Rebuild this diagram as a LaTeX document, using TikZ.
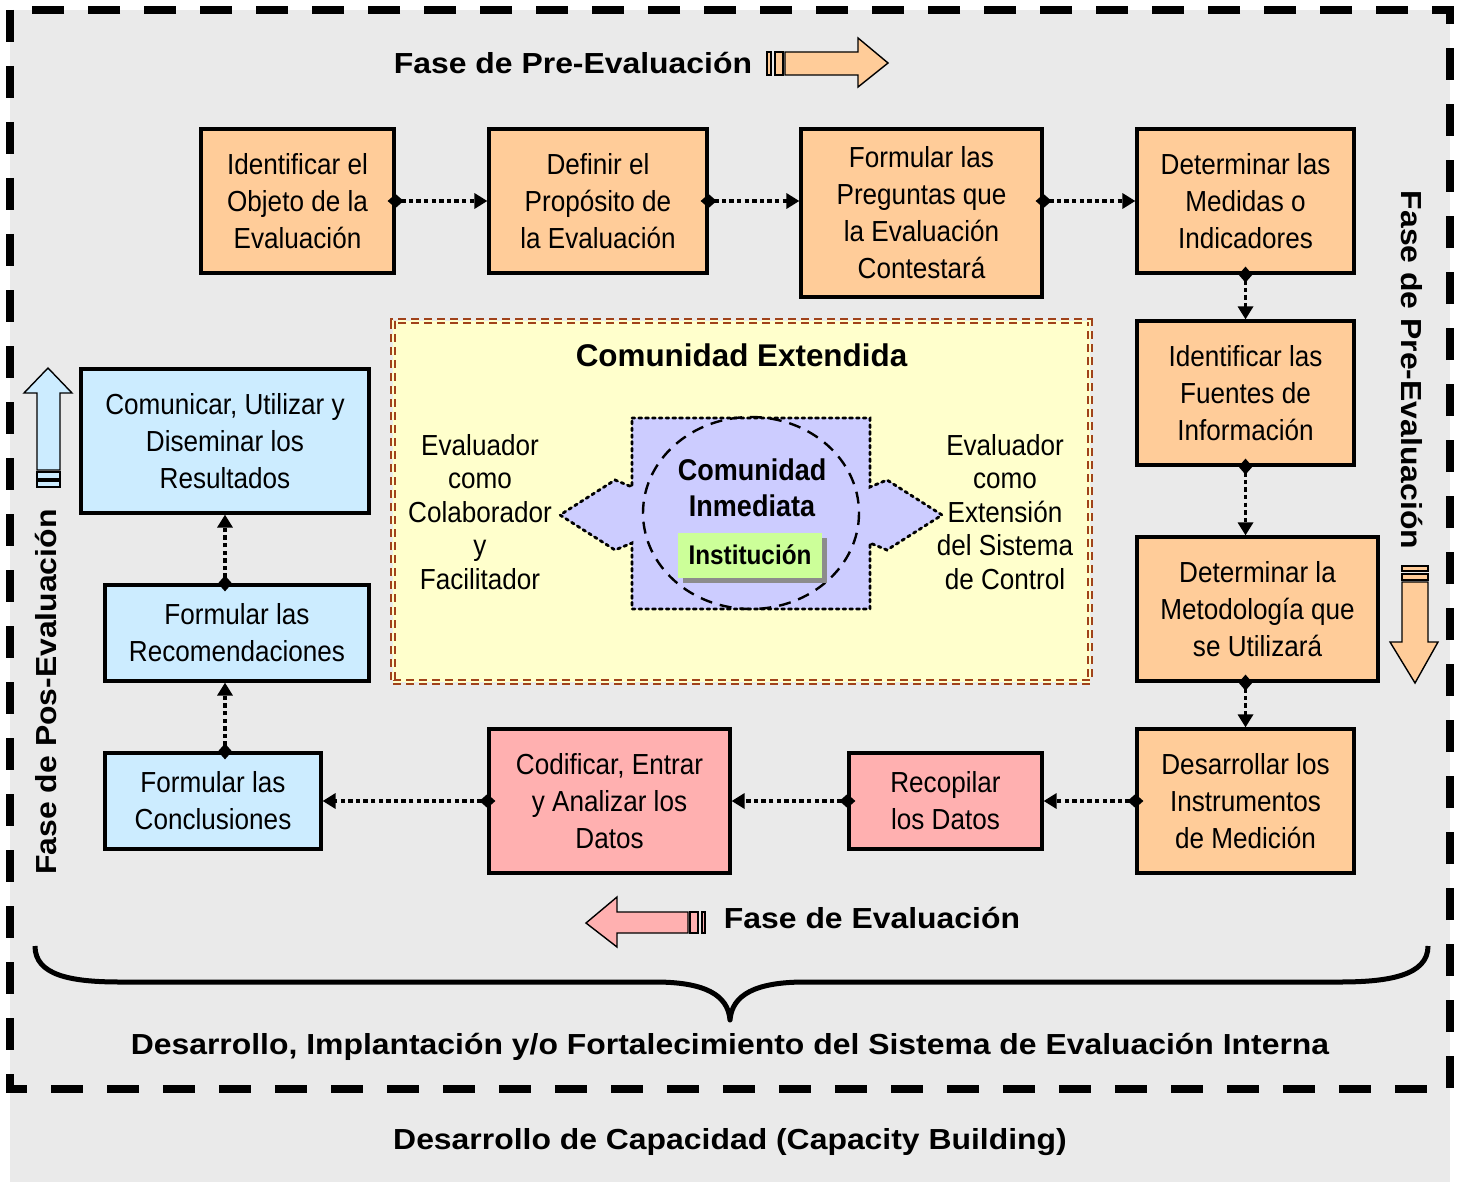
\documentclass[tikz,border=0pt]{standalone}
\usepackage{fontspec}
\setmainfont{Liberation Sans}
\newfontfamily\narrowsf[FakeStretch=0.9]{Liberation Sans}
\newfontfamily\widesf[FakeStretch=1.1]{Liberation Sans}
\usetikzlibrary{
  arrows.meta,
  shadows
}
\definecolor{evGray}{HTML}{EAEAEA}
\definecolor{evPre}{HTML}{FFCC99}
\definecolor{evEval}{HTML}{FFB0B0}
\definecolor{evPos}{HTML}{CCECFF}
\definecolor{evExt}{HTML}{FFFFCC}
\definecolor{evInm}{HTML}{CCCCFF}
\definecolor{evInst}{HTML}{CCFF99}
\definecolor{evRust}{HTML}{A0421A}
\tikzset{
  paso/.style={
    draw, line width=1.6pt, align=center, inner sep=2pt,
    font=\narrowsf\fontsize{14.5}{18.5}\selectfont
  },
  pasopre/.style={paso, fill=evPre},
  pasoeval/.style={paso, fill=evEval},
  pasopos/.style={paso, fill=evPos},
  enlace/.style={
    line width=1.6pt, dash pattern=on 2.2pt off 1.6pt, shorten <=-4pt,
    {Diamond[length=8pt, width=7pt]}-{Triangle[length=6.5pt, width=7.5pt]}
  },
  fase/.style={font=\widesf\bfseries\fontsize{14.5}{17}\selectfont},
  rol/.style={align=center, font=\narrowsf\fontsize{14.5}{16.8}\selectfont},
  flecha/.style={draw, line width=0.7pt, line join=miter},
  marco/.style={line width=4pt, dash pattern=on 16pt off 12pt},
  llave/.style={line width=2.5pt, line join=round}
}

\begin{document}
\begin{tikzpicture}[x=0.5pt, y=-0.5pt]
  \useasboundingbox (0,0) rectangle (1460,1182);
  \fill[evGray] (10,10) rectangle (1450,1182);
  \draw[marco] (10,10) rectangle (1450,1089);

  % fase de pre-evaluacion
  \node[fase] (tpre) at (573,63) {Fase de Pre-Evaluación};
  \draw[flecha, fill=evPre] (767,52) rectangle (771,75);
  \draw[flecha, fill=evPre] (775,52) rectangle (783,75);
  \draw[flecha, fill=evPre] (785,52) -- (858,52) -- (858,38) -- (888,63)
    -- (858,87) -- (858,75) -- (785,75) -- cycle;

  \node[pasopre, minimum width=96.5pt, minimum height=72pt] (objeto) at (297.5,201)
    {Identificar el\\Objeto de la\\Evaluación};
  \node[pasopre, minimum width=109pt, minimum height=72pt] (proposito) at (598,201)
    {Definir el\\Propósito de\\la Evaluación};
  \node[pasopre, minimum width=120.5pt, minimum height=84pt] (preguntas) at (921.5,213)
    {Formular las\\Preguntas que\\la Evaluación\\Contestará};
  \node[pasopre, minimum width=108.5pt, minimum height=72pt] (medidas) at (1245.5,201)
    {Determinar las\\Medidas o\\Indicadores};
  \node[pasopre, minimum width=108.5pt, minimum height=72pt] (fuentes) at (1245.5,393)
    {Identificar las\\Fuentes de\\Información};
  \node[pasopre, minimum width=120.5pt, minimum height=72pt] (metodo) at (1257.5,609)
    {Determinar la\\Metodología que\\se Utilizará};
  \node[pasopre, minimum width=108.5pt, minimum height=72pt] (instrum) at (1245.5,801)
    {Desarrollar los\\Instrumentos\\de Medición};

  \node[fase, rotate=-90] (tpre2) at (1412,370) {Fase de Pre-Evaluación};
  \draw[flecha, fill=evPre] (1402,566) rectangle (1428,571);
  \draw[flecha, fill=evPre] (1402,574) rectangle (1428,580);
  \draw[flecha, fill=evPre] (1402,582) -- (1402,642) -- (1390,642) -- (1415,683)
    -- (1438,642) -- (1428,642) -- (1428,582) -- cycle;

  % fase de evaluacion
  \node[pasoeval, minimum width=96.5pt, minimum height=48pt] (recopilar) at (945.5,801)
    {Recopilar\\los Datos};
  \node[pasoeval, minimum width=120.5pt, minimum height=72pt] (codificar) at (609.5,801)
    {Codificar, Entrar\\y Analizar los\\Datos};

  \node[fase] (teval) at (872,918) {Fase de Evaluación};
  \draw[flecha, fill=evEval] (702,912) rectangle (705,933);
  \draw[flecha, fill=evEval] (690,912) rectangle (698,933);
  \draw[flecha, fill=evEval] (688,912) -- (617,912) -- (617,897) -- (586,923)
    -- (617,947) -- (617,933) -- (688,933) -- cycle;

  % fase de pos-evaluacion
  \node[pasopos, minimum width=108pt, minimum height=48pt] (conclus) at (213,801)
    {Formular las\\Conclusiones};
  \node[pasopos, minimum width=132pt, minimum height=48pt] (recomend) at (237,633)
    {Formular las\\Recomendaciones};
  \node[pasopos, minimum width=144pt, minimum height=72pt] (comunicar) at (225,441)
    {Comunicar, Utilizar y\\Diseminar los\\Resultados};

  \node[fase, rotate=90] (tpos) at (46,692) {Fase de Pos-Evaluación};
  \draw[flecha, fill=evPos] (37,481) rectangle (60,487);
  \draw[flecha, fill=evPos] (37,472) rectangle (60,479);
  \draw[flecha, fill=evPos] (37,470) -- (37,393) -- (24,393) -- (48,368)
    -- (72,393) -- (60,393) -- (60,470) -- cycle;

  % enlaces
  \draw[enlace] (objeto.east) -- (proposito.west);
  \draw[enlace] (proposito.east) -- (proposito.east -| preguntas.west);
  \draw[enlace] (proposito.east -| preguntas.east) -- (medidas.west);
  \draw[enlace] (medidas.south) -- (fuentes.north);
  \draw[enlace] (fuentes.south) -- (fuentes.south |- metodo.north);
  \draw[enlace] (instrum.north |- metodo.south) -- (instrum.north);
  \draw[enlace] (instrum.west) -- (recopilar.east);
  \draw[enlace] (recopilar.west) -- (codificar.east);
  \draw[enlace] (codificar.west) -- (conclus.east);
  \draw[enlace] (comunicar.south |- conclus.north) -- (comunicar.south |- recomend.south);
  \draw[enlace] (comunicar.south |- recomend.north) -- (comunicar.south);

  % comunidad
  \node[fill=evExt, draw=evRust, double=evExt, double distance=1.2pt, line width=0.8pt,
    dash pattern=on 4pt off 2.5pt, minimum width=348.5pt, minimum height=180.5pt]
    (extendida) at (741.5,501.5) {};
  \node[font=\bfseries\fontsize{15.7}{18}\selectfont] (textext) at (741.5,355)
    {Comunidad Extendida};
  \draw[fill=evInm, line width=1.4pt, dotted, line cap=round]
    (632,418) -- (870,418) -- (870,487) -- (887,480) -- (942,515) -- (887,550)
    -- (870,543) -- (870,609) -- (632,609) -- (632,543) -- (615,550) -- (560,515)
    -- (615,480) -- (632,487) -- cycle;
  \draw[line width=1.2pt, dash pattern=on 6pt off 4pt] (751,513) ellipse [x radius=108, y radius=96];
  \node[align=center, font=\narrowsf\bfseries\fontsize{15}{18}\selectfont] (inmediata)
    at (752,488) {Comunidad\\Inmediata};
  \node[fill=evInst, minimum width=72pt, minimum height=22.5pt,
    font=\narrowsf\bfseries\fontsize{13.5}{16}\selectfont,
    drop shadow={shadow xshift=2.5pt, shadow yshift=-2.5pt, fill=black!45, opacity=1}]
    (institucion) at (750,555) {Institución};
  \node[rol] (colab) at (480,512) {Evaluador\\como\\Colaborador\\y\\Facilitador};
  \node[rol] (extens) at (1005,512) {Evaluador\\como\\Extensión\\del Sistema\\de Control};

  % llave y textos finales
  \draw[llave] (35,946) .. controls (35,975) and (70,982) .. (120,982) -- (655,982)
    .. controls (705,982) and (728,995) .. (730,1020)
    .. controls (732,995) and (755,982) .. (805,982) -- (1340,982)
    .. controls (1390,982) and (1428,975) .. (1428,946);
  \node[fase] (sistema) at (730,1047)
    {Desarrollo, Implantación y/o Fortalecimiento del Sistema de Evaluación Interna};
  \node[fase] (capacidad) at (730,1142) {Desarrollo de Capacidad (Capacity Building)};
\end{tikzpicture}
\end{document}
